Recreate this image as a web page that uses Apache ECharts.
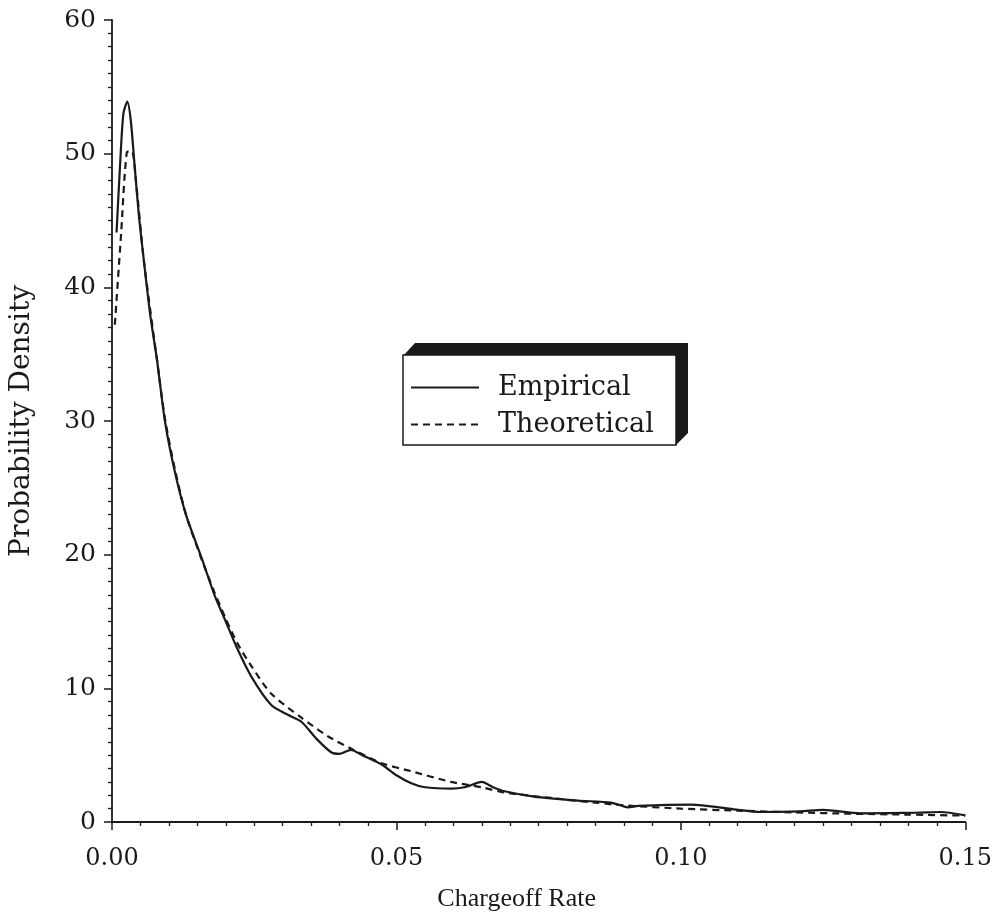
<!DOCTYPE html>
<html>
<head>
<meta charset="utf-8">
<script src="https://cdn.jsdelivr.net/npm/echarts@6/dist/echarts.min.js"></script>
<style>
html,body{margin:0;padding:0;background:#fff;}
#chart{width:995px;height:919px;}
</style>
</head>
<body>
<div id="chart"></div>
<script>
// Empirical density (x = chargeoff rate, y = density)
var empiricalX = [0.0008,0.0014,0.002,0.0027,0.0033,0.0039,0.0047,0.0056,0.0067,0.0079,0.0093,0.011,0.013,0.0158,0.018,0.020,0.022,0.0246,0.028,0.031,0.0333,0.036,0.0386,0.040,0.042,0.044,0.0474,0.050,0.0526,0.055,0.0596,0.062,0.065,0.067,0.069,0.0742,0.0819,0.0877,0.0907,0.0925,0.1018,0.1093,0.114,0.121,0.125,0.1316,0.1416,0.1456,0.150];
var empiricalY = [44.1,49,53,53.9,52.5,49.5,45.5,42,38,34.6,30,26.3,23,19.7,17,15,13,10.8,8.75,8.0,7.5,6.2,5.2,5.1,5.4,5.0,4.3,3.5,2.9,2.6,2.5,2.6,3.0,2.6,2.3,1.9,1.6,1.45,1.1,1.2,1.3,0.95,0.75,0.8,0.9,0.65,0.7,0.75,0.5];
// Theoretical density
var theoreticalX = [0.0005,0.0016,0.0026,0.0035,0.0042,0.0056,0.0079,0.0093,0.011,0.013,0.0158,0.018,0.020,0.022,0.0246,0.028,0.0333,0.038,0.042,0.0474,0.0526,0.0596,0.065,0.069,0.0772,0.085,0.090,0.100,0.110,0.120,0.130,0.140,0.150];
var theoreticalY = [37.2,44,50.1,50.2,48,42,34.6,30.2,26.5,23,19.6,17.2,15.2,13.4,11.6,9.6,7.8,6.4,5.5,4.4,3.8,3.0,2.6,2.2,1.8,1.45,1.25,1.0,0.85,0.72,0.62,0.55,0.48];
var xTicks = [0, 0.05, 0.10, 0.15];
var yTicks = [0, 10, 20, 30, 40, 50, 60];
var seriesNames = ['Empirical', 'Theoretical'];

function pairs(xs, ys){ return xs.map(function(x,i){ return [x, ys[i]]; }); }

var chart = echarts.init(document.getElementById('chart'));
var serif = 'DejaVu Serif';
var ink = '#1a1a1a';
chart.setOption({
  backgroundColor: '#ffffff',
  animation: false,
  grid: { left: 103, right: 27, top: 20, bottom: 97 },
  graphic: [
    { type: 'polygon', z: 30, silent: true,
      shape: { points: [[403,356],[415,343],[688,343],[688,433],[676,445]] },
      style: { fill: ink } },
    { type: 'rect', z: 31, silent: true,
      shape: { x: 403, y: 355, width: 273, height: 90 },
      style: { fill: '#ffffff', stroke: ink, lineWidth: 1.5 } }
  ],
  legend: {
    z: 40,
    orient: 'vertical',
    left: 410, top: 374,
    data: seriesNames,
    itemWidth: 68, itemHeight: 14, itemGap: 10,
    padding: 0,
    itemStyle: { opacity: 0 },
    textStyle: { fontFamily: serif, fontSize: 27, color: ink, padding: [0, 0, 0, 14] }
  },
  xAxis: {
    type: 'value', min: xTicks[0], max: xTicks[xTicks.length-1], interval: 0.05,
    name: 'Chargeoff Rate', nameLocation: 'middle', nameGap: 64,
    nameTextStyle: { fontFamily: 'Liberation Serif', fontSize: 26, color: ink, padding: [0, 44, 0, 0] },
    axisLine: { lineStyle: { color: ink, width: 1.8 } },
    axisTick: { length: 8, lineStyle: { color: ink, width: 1.5 } },
    minorTick: { show: true, splitNumber: 10, length: 4, lineStyle: { color: ink, width: 1.3 } },
    axisLabel: { fontFamily: serif, fontSize: 24, color: ink, margin: 25,
      formatter: function(v){ return v.toFixed(2); } },
    splitLine: { show: false }
  },
  yAxis: {
    type: 'value', min: yTicks[0], max: yTicks[yTicks.length-1], interval: 10,
    name: 'Probability Density', nameLocation: 'middle', nameGap: 76,
    nameTextStyle: { fontFamily: serif, fontSize: 28, color: ink, padding: [0, 0, 0, 0] },
    axisLine: { show: true, lineStyle: { color: ink, width: 1.8 } },
    axisTick: { show: true, length: 8, lineStyle: { color: ink, width: 1.5 } },
    minorTick: { show: true, splitNumber: 10, length: 4, lineStyle: { color: ink, width: 1.3 } },
    axisLabel: { fontFamily: serif, fontSize: 25, color: ink, margin: 16 },
    splitLine: { show: false }
  },
  series: [
    { name: seriesNames[0], type: 'line', data: pairs(empiricalX, empiricalY),
      showSymbol: false, symbol: 'none', smooth: 0.25,
      lineStyle: { color: ink, width: 2.2, type: 'solid' }, itemStyle: { color: ink } },
    { name: seriesNames[1], type: 'line', data: pairs(theoreticalX, theoreticalY),
      showSymbol: false, symbol: 'none', smooth: 0.25,
      lineStyle: { color: ink, width: 2.2, type: [7, 5] }, itemStyle: { color: ink } }
  ]
});
</script>
</body>
</html>
